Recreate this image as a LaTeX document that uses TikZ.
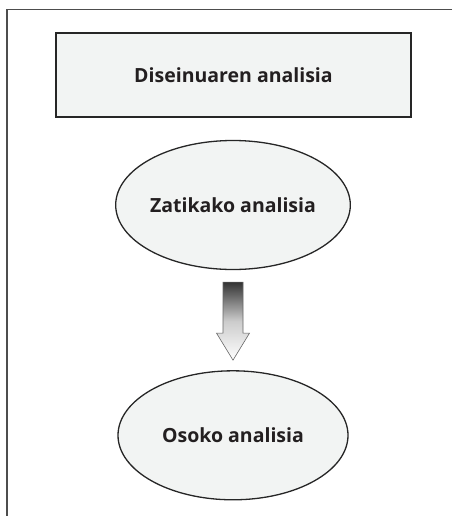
\documentclass[tikz,border=0pt]{standalone}
\usepackage{fontspec}
\setmainfont{Open Sans}
\usetikzlibrary{positioning,shapes.geometric}

\definecolor{boxfill}{HTML}{F2F4F3}
\definecolor{textgray}{HTML}{231F20}
\definecolor{framegray}{HTML}{4D4D4D}

\begin{document}
\begin{tikzpicture}[
    x=1pt, y=-1pt,
    every node/.style={
        font=\fontsize{19.5}{23}\selectfont\bfseries,
        text=textgray,
        line width=1.3pt,
        fill=boxfill
    },
    stagebox/.style={
        draw=black!85,
        rectangle,
        minimum width=355pt,
        minimum height=84pt
    },
    stageoval/.style={
        draw=black!85,
        ellipse,
        inner sep=0pt,
        minimum width=230pt,
        minimum height=129pt
    },
    downarrow/.style={
        draw=black!60,
        line width=0.6pt,
        top color=black!80,
        bottom color=white,
        middle color=black!20
    }
]

\useasboundingbox (0,0) rectangle (452,516);

% open frame, top and left side only
\draw[framegray, line width=1.6pt] (452,9.5) -- (7,9.5) -- (7,516);

\node[stagebox] (design) at (233.5,75) {Diseinuaren analisia};

\node[stageoval] (partial) at (233,205) {Zatikako analisia};

% block arrow between the two ovals
\coordinate[below=12pt of partial] (step);
\coordinate[below=78pt of step] (tip);
\shade[downarrow] (step) ++(-10,0) -- ++(20,0) -- ++(0,51) -- ++(6.5,0)
    -- (tip) -- ++(-16.5,-27) -- ++(6.5,0) -- cycle;

\node[stageoval, below=10pt of tip] (whole) {Osoko analisia};

\end{tikzpicture}
\end{document}
